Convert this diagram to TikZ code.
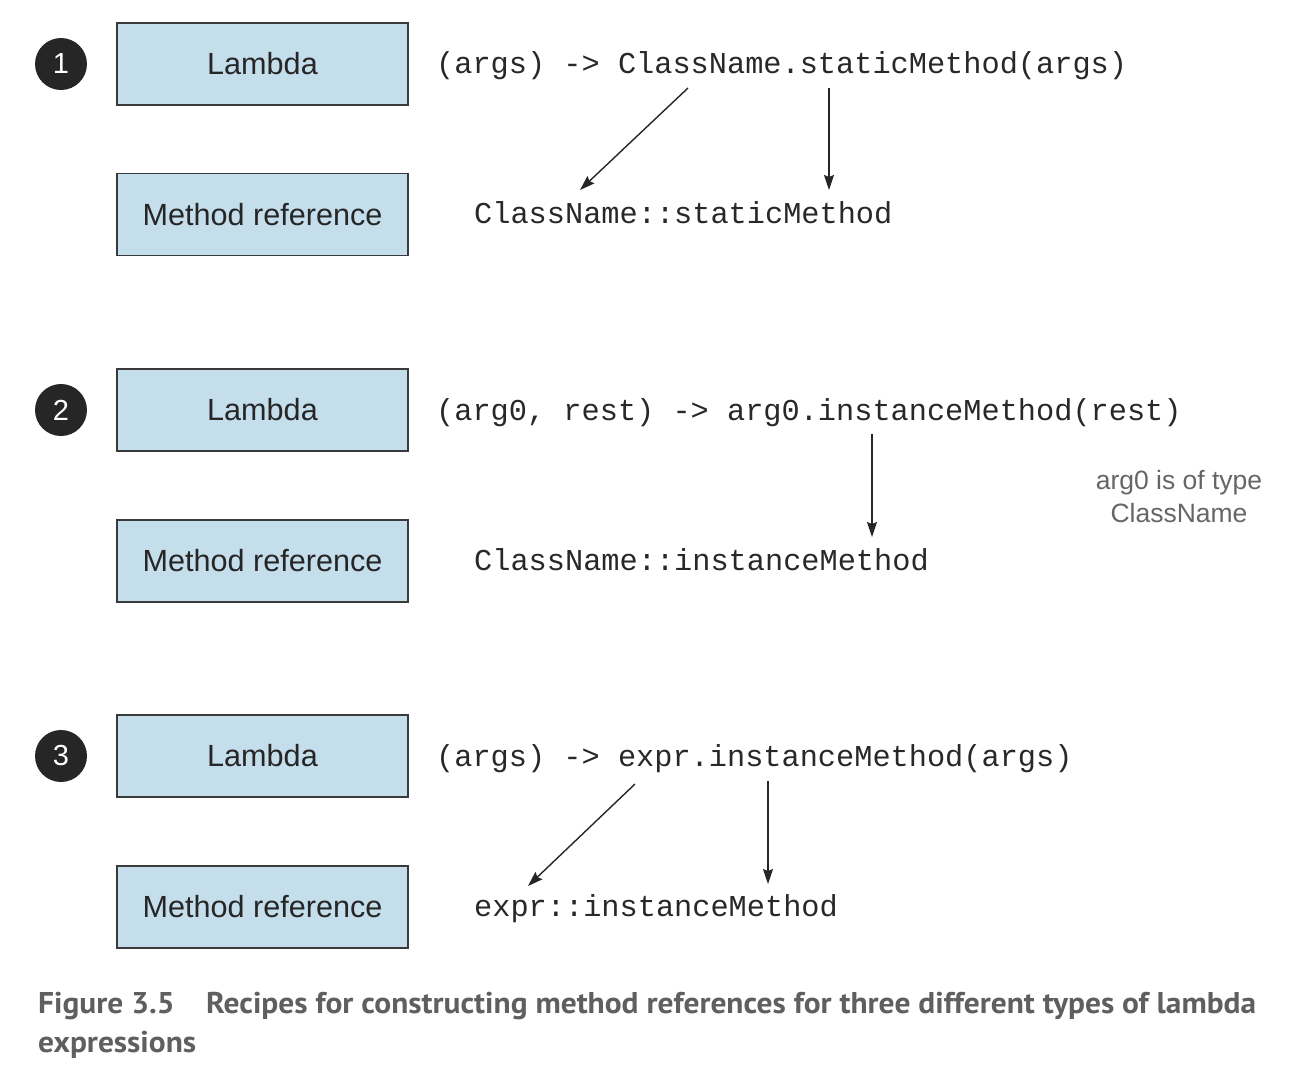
\documentclass[tikz,border=0pt]{standalone}
\usepackage{fontspec}
\usepackage{graphicx}
\setmainfont{Liberation Sans}
\newfontfamily\capfont{PT Sans}
\newfontfamily\monofam{Liberation Mono}
\newcommand\codefont{\monofam\fontsize{30.3}{36}\selectfont}
\usetikzlibrary{arrows.meta}
\definecolor{boxfill}{RGB}{197,222,236}
\definecolor{boxline}{RGB}{58,58,58}
\definecolor{numfill}{RGB}{38,38,38}
\definecolor{txt}{RGB}{38,38,38}
\definecolor{codetxt}{RGB}{40,40,40}
\definecolor{arrcol}{RGB}{38,38,38}
\definecolor{notecol}{RGB}{102,102,102}
\definecolor{capcol}{RGB}{95,95,95}
\newlength\capw
\newcommand\capsx{1}
\begin{document}
\settowidth\capw{\capfont\bfseries\fontsize{30}{40}\selectfont Recipes for constructing method references for three different types of lambda}%
\pgfmathsetmacro\capsx{1050/\capw}%
\begin{tikzpicture}[x=1pt,y=-1pt,
  box/.style={draw=boxline, fill=boxfill, line width=1.4pt, minimum width=291pt,
    minimum height=82pt, inner sep=0pt, text=txt, font=\fontsize{30.6}{36}\selectfont},
  num/.style={circle, fill=numfill, minimum size=52pt, inner sep=0pt, text=white,
    font=\fontsize{29}{34}\selectfont},
  code/.style={anchor=base west, inner sep=0pt, text=codetxt, font=\codefont},
  arr/.style={line width=1.4pt, draw=arrcol, -{Stealth[length=15pt,width=10pt,inset=2pt]}},
  note/.style={align=center, text=notecol, inner sep=0pt, font=\fontsize{26.5}{33}\selectfont},
  captext/.style={anchor=base west, inner sep=0pt, text=capcol, font=\capfont\bfseries\fontsize{30}{40}\selectfont}]
\useasboundingbox (0,0) rectangle (1302,1072);

% row 1
\node[num] (n1) at (61,64) {1};
\node[box] (l1) at (262.5,64) {Lambda};
\node[box] (m1) at (262.5,214.5) {Method reference};
\node[code] (c1) at (436,73) {(args) -> ClassName.staticMethod(args)};
\node[code] (d1) at (474,223) {ClassName::staticMethod};
\coordinate (a1s) at (688,88);
\coordinate (a1e) at (580,190);
\coordinate (b1s) at (829,88);
\coordinate (b1e) at (829,190);
\draw[arr] (a1s) -- (a1e);
\draw[arr] (b1s) -- (b1e);

% row 2
\node[num] (n2) at (61,410) {2};
\node[box] (l2) at (262.5,410) {Lambda};
\node[box] (m2) at (262.5,561) {Method reference};
\node[code] (c2) at (436,420) {(arg0, rest) -> arg0.instanceMethod(rest)};
\node[code] (d2) at (474,570) {ClassName::instanceMethod};
\coordinate (b2s) at (872,434);
\coordinate (b2e) at (872,537);
\draw[arr] (b2s) -- (b2e);
\node[note] (t2) at (1179,497) {arg0 is of type\\ClassName};

% row 3
\node[num] (n3) at (61,756) {3};
\node[box] (l3) at (262.5,756) {Lambda};
\node[box] (m3) at (262.5,907) {Method reference};
\node[code] (c3) at (436,766) {(args) -> expr.instanceMethod(args)};
\node[code] (d3) at (474,916) {expr::instanceMethod};
\coordinate (a3s) at (635,784);
\coordinate (a3e) at (528,886);
\coordinate (b3s) at (768,781);
\coordinate (b3e) at (768,884);
\draw[arr] (a3s) -- (a3e);
\draw[arr] (b3s) -- (b3e);

% caption
\node[captext] (f1) at (38,1013) {\scalebox{\capsx}[1]{Figure 3.5}};
\node[captext] (f2) at (206,1013) {\scalebox{\capsx}[1]{Recipes for constructing method references for three different types of lambda}};
\node[captext] (f3) at (38,1052) {\scalebox{\capsx}[1]{expressions}};
\end{tikzpicture}
\end{document}
